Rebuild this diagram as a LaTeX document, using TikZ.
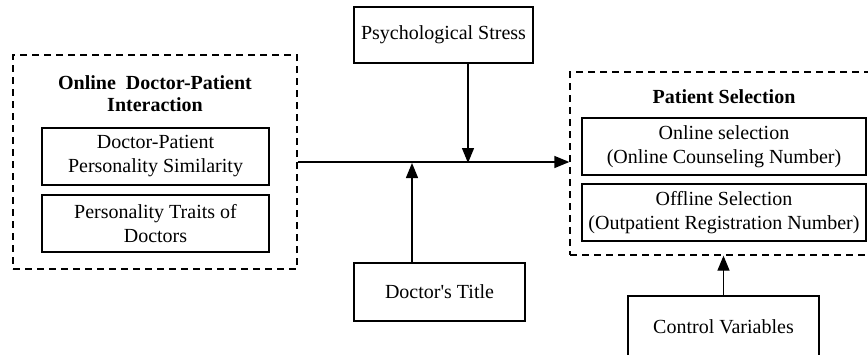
\documentclass[tikz,border=0pt]{standalone}
\usepackage{fontspec}
\setmainfont{Liberation Serif}
\usetikzlibrary{arrows.meta}
\tikzset{
  box/.style={draw,line width=1.3pt,align=center,inner sep=0pt},
  group/.style={draw,line width=1.3pt,dash pattern=on 7pt off 5pt},
  link/.style={line width=1.3pt,-{Triangle[length=15pt,width=12pt]}}
}
\begin{document}
\begin{tikzpicture}[x=1pt,y=-1pt,font=\fontsize{20}{24}\selectfont]
    \clip (0,0) rectangle (868,354);
    % Left group
    \node[group,minimum width=284pt,minimum height=214pt] (odpi) at (155,162) {};
    \node[align=center,font=\fontsize{20}{22}\selectfont\bfseries] (odpihead) at (155,94) {Online\ \ Doctor-Patient\\Interaction};
    \node[box,minimum width=227pt,minimum height=57pt] (sim) at (155.5,156.5) {Doctor-Patient\\Personality Similarity};
    \node[box,minimum width=227pt,minimum height=57pt] (traits) at (155.5,223.5) {Personality Traits of\\Doctors};
    % Moderators
    \node[box,minimum width=179pt,minimum height=56pt] (stress) at (443.5,35) {Psychological Stress};
    \node[box,minimum width=171pt,minimum height=58pt] (title) at (439.5,292) {Doctor\textquotesingle s Title};
    % Right group
    \node[group,minimum width=305pt,minimum height=183pt] (ps) at (722.5,163.5) {};
    \node[font=\fontsize{20}{24}\selectfont\bfseries] (pshead) at (724,97) {Patient Selection};
    \node[box,minimum width=284pt,minimum height=57pt] (online) at (724,146.5) {Online selection\\(Online Counseling Number)};
    \node[box,minimum width=284pt,minimum height=57pt] (offline) at (724,212.5) {Offline Selection\\(Outpatient Registration Number)};
    % Controls
    \node[box,minimum width=191pt,minimum height=62pt] (control) at (723.5,327) {Control Variables};
    % Arrows
    \coordinate (m1) at (468,163);
    \coordinate (m2) at (412,163);
    \draw[link] (odpi.east) -- (odpi.east -| ps.west);
    \draw[link] (stress.south -| m1) -- (m1);
    \draw[link] (title.north -| m2) -- (m2);
    \draw[link] (control.north) -- (ps.south -| control.north);
\end{tikzpicture}
\end{document}
